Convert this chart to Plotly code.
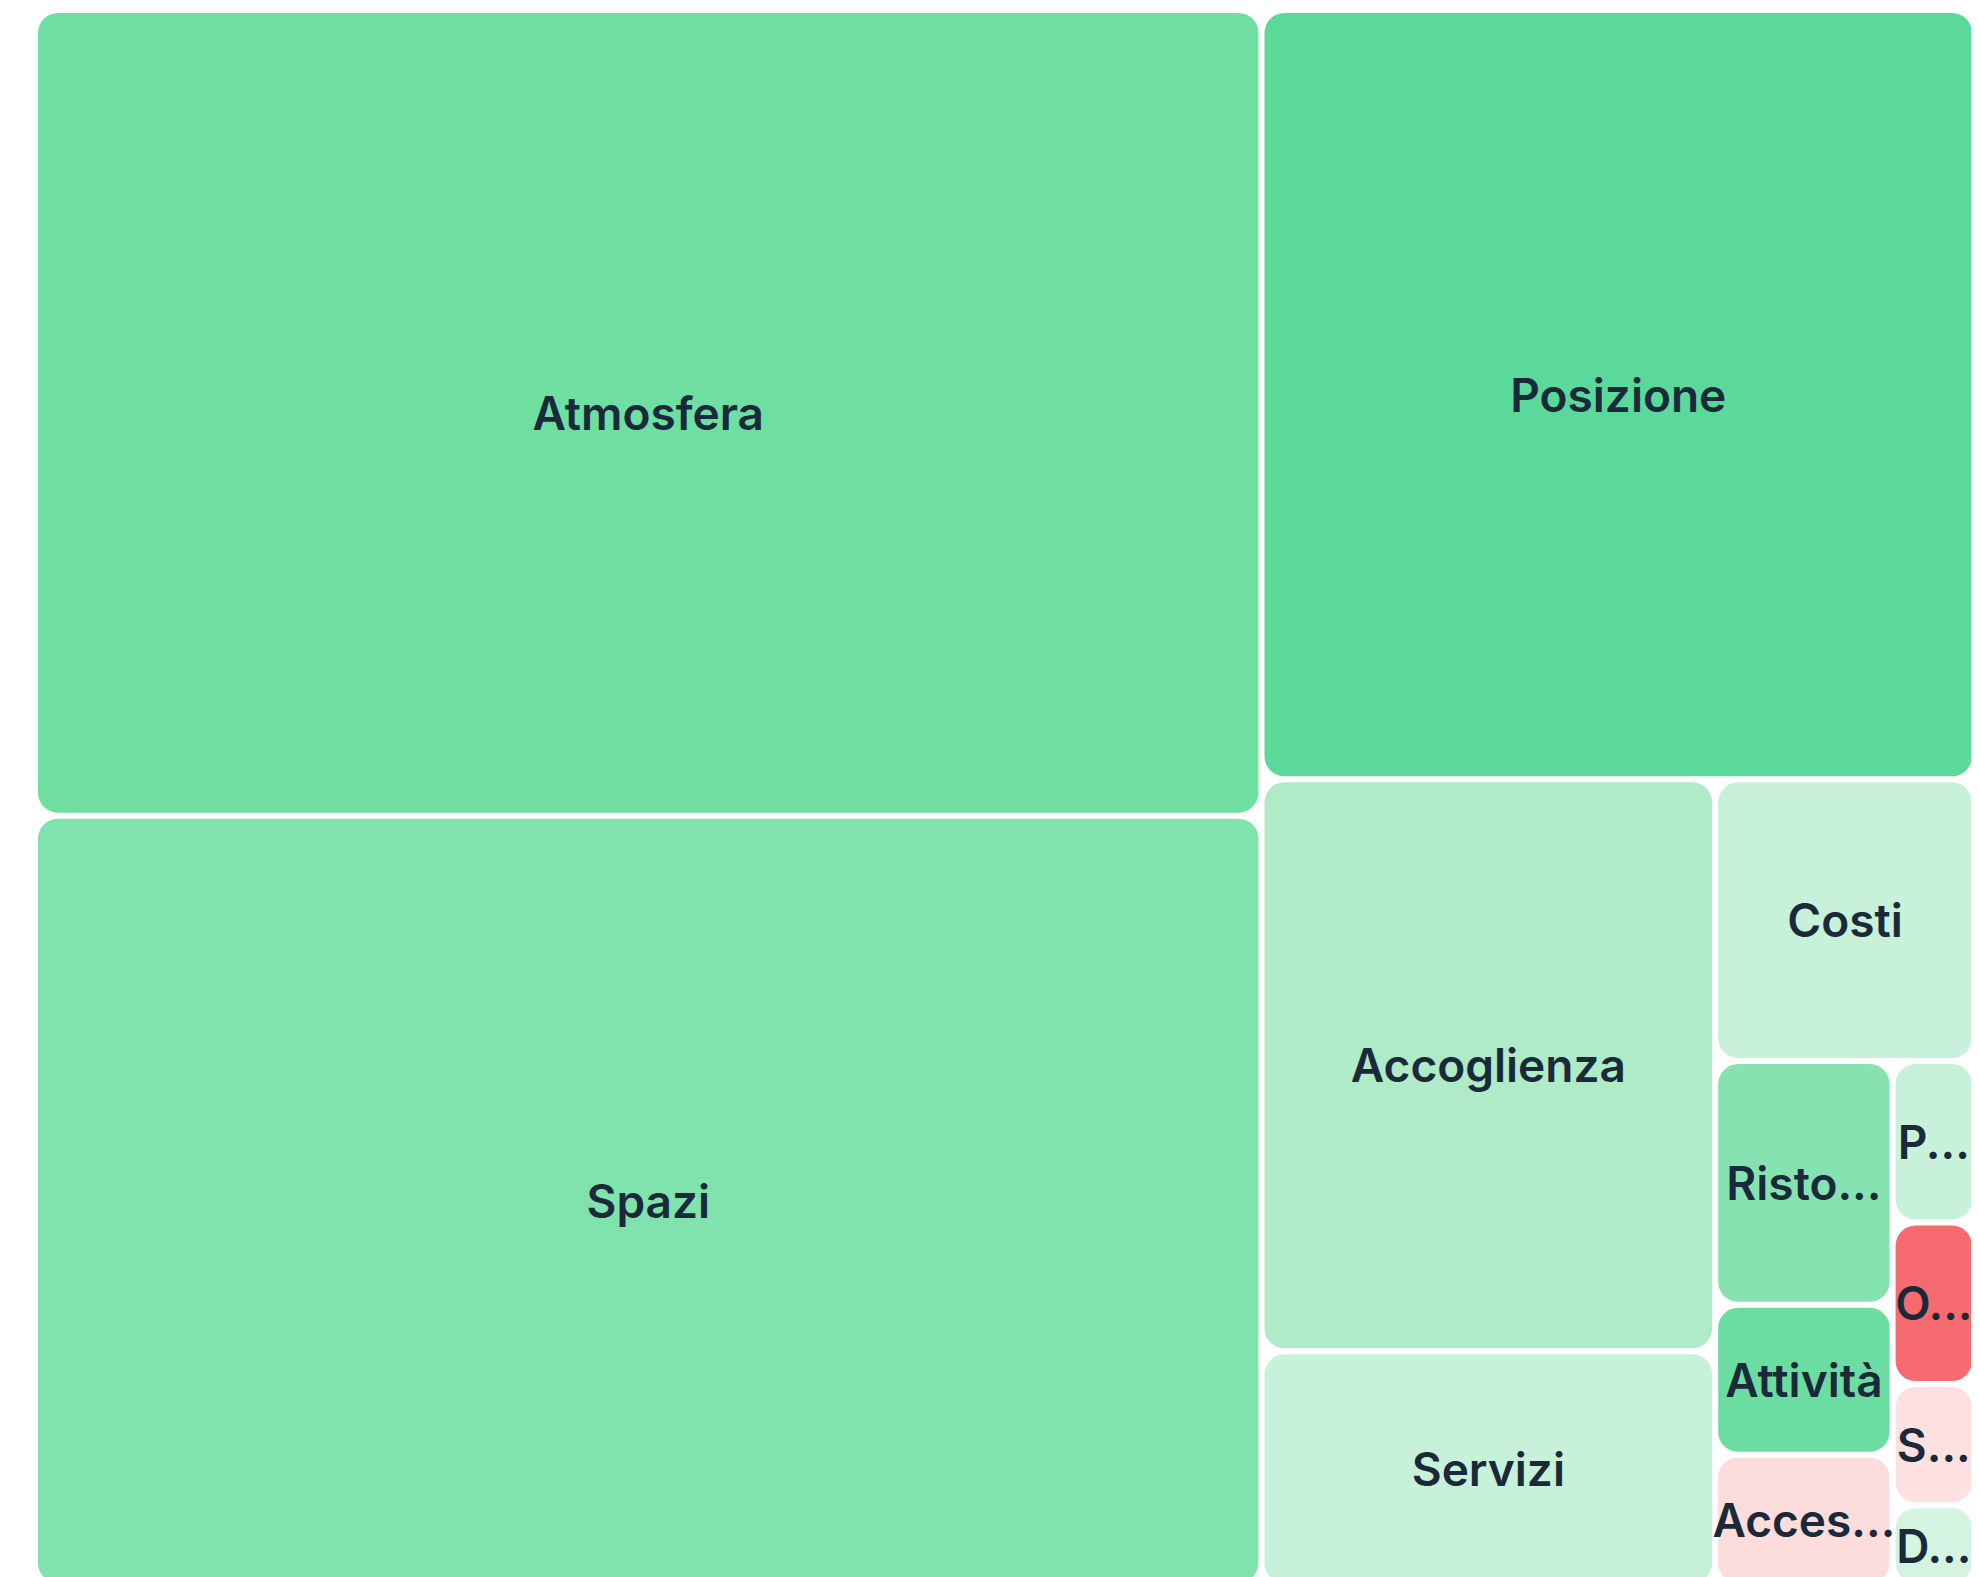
import plotly.graph_objects as go

# topics and mention counts
topics = ["Atmosfera", "Spazi", "Posizione", "Accoglienza", "Servizi", "Costi",
          "Ristorazione", "Attività", "Accessibilità", "Pulizia", "Organizzazione",
          "Sicurezza", "Disponibilità"]
shown = ["Atmosfera", "Spazi", "Posizione", "Accoglienza", "Servizi", "Costi",
         "Risto...", "Attività", "Acces...", "P...", "O...", "S...", "D..."]
mentions = [297, 284, 165, 78, 32, 22, 13, 8, 7, 4, 4, 3, 2]
tile_colors = ["#6EDFA0", "#80E2AC", "#5AD99A", "#AEEBC6", "#C7F1D8", "#C7F1D8",
               "#86E3B1", "#6CDDA0", "#FDDCDC", "#C7F1D8", "#F56B70", "#FDE1E1", "#D4F4E1"]

# invisible grouping nodes that reproduce the block arrangement of the reference
topic_parents = ["left", "left", "right", "col_a", "col_a", "col_b",
                 "col_c", "col_c", "col_c", "col_d", "col_d", "col_d", "col_d"]
groups = ["left", "right", "lower", "col_a", "col_b", "rest", "col_c", "col_d"]
group_parents = ["", "", "right", "lower", "lower", "col_b", "rest", "rest"]

# topics first, so each topic precedes its sibling group (sort is off)
ids = topics + groups
parents = topic_parents + group_parents
values = mentions + [0] * len(groups)
texts = shown + [""] * len(groups)
colors = tile_colors + ["white"] * len(groups)

fig = go.Figure(go.Treemap(
    ids=ids,
    labels=ids,
    parents=parents,
    values=values,
    text=texts,
    texttemplate="%{text}",
    textposition="middle center",
    textfont=dict(family="Inter", size=46, color="#1B2A3A", weight=600),
    marker=dict(colors=colors, cornerradius=20, line=dict(width=0),
                pad=dict(t=0, l=0, r=0, b=0)),
    tiling=dict(packing="slice-dice", pad=6),
    pathbar=dict(visible=False),
    sort=False,
    hoverinfo="label+value",
))

fig.update_layout(
    width=1979, height=1577,
    margin=dict(l=30, r=15, t=5, b=2),
    paper_bgcolor="white",
    uniformtext=dict(minsize=46, mode="show"),
)

fig.write_html("out.html")
